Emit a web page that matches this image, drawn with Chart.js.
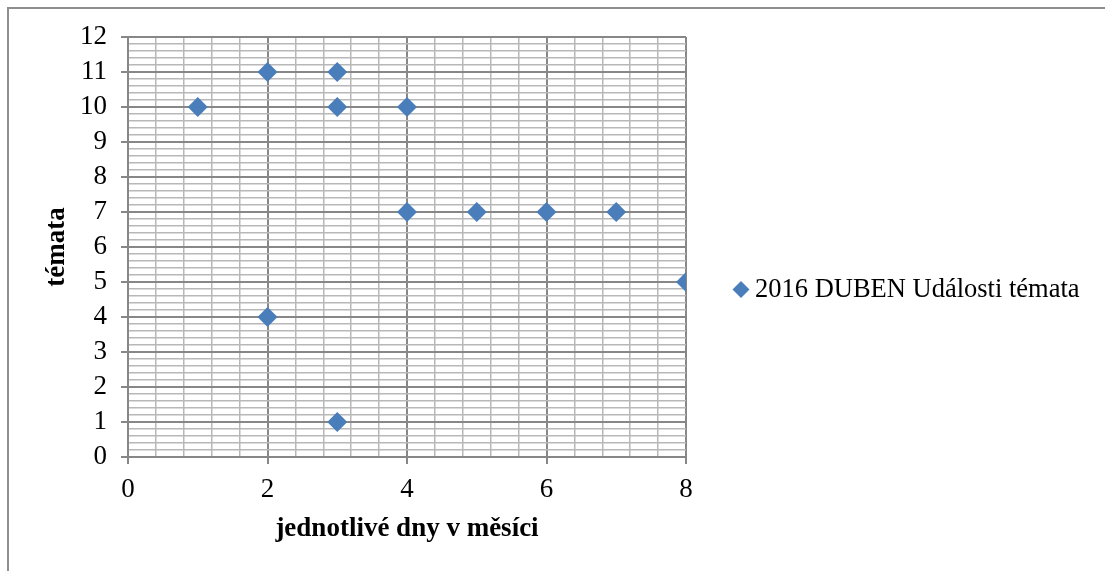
<!DOCTYPE html>
<html>
<head>
<meta charset="utf-8">
<script src="https://cdn.jsdelivr.net/npm/chart.js@4.4.1/dist/chart.umd.min.js"></script>
<style>
  html, body { margin: 0; padding: 0; background: #fff; overflow: hidden; }
  #frame { position: absolute; left: 7px; top: 7px; width: 1200px; height: 700px; border: 2px solid #8e8e8e; }
  #wrap { position: absolute; left: 0; top: 0; width: 1105px; height: 571px; }
</style>
</head>
<body>
<div id="frame"></div>
<div id="wrap"><canvas id="chart"></canvas></div>
<script>
// values
const seriesLabel = '2016 DUBEN Události témata';
const days = [1, 2, 3, 3, 4, 4, 5, 6, 7, 8, 2, 3];
const topics = [10, 11, 11, 10, 10, 7, 7, 7, 7, 5, 4, 1];
const xTitle = 'jednotlivé dny v měsíci';
const yTitle = 'témata';

const blue = '#4a7ebb';
const majorGrid = '#878787';
const minorGrid = '#b8b8b8';

const isWhole = (v, step) => Math.abs(v / step - Math.round(v / step)) < 1e-6;

Chart.defaults.font.family = '"Liberation Serif", "Times New Roman", serif';
Chart.defaults.font.size = 27;
Chart.defaults.color = '#000';

// Excel-like legend, sitting right of the plot
const sideLegend = {
  id: 'sideLegend',
  afterDraw(chart) {
    const { ctx, chartArea } = chart;
    const ds = chart.data.datasets[0];
    const x = chartArea.right + 55;
    const y = chart.height / 2 + 4;
    const r = 8.5;
    ctx.save();
    ctx.fillStyle = ds.backgroundColor;
    ctx.beginPath();
    ctx.moveTo(x, y - r);
    ctx.lineTo(x + r, y);
    ctx.lineTo(x, y + r);
    ctx.lineTo(x - r, y);
    ctx.closePath();
    ctx.fill();
    ctx.fillStyle = '#000';
    ctx.font = '26.5px "Liberation Serif", "Times New Roman", serif';
    ctx.textBaseline = 'middle';
    ctx.fillText(ds.label, x + 14, y + 1);
    ctx.restore();
  },
};

new Chart(document.getElementById('chart'), {
  type: 'scatter',
  data: {
    datasets: [{
      label: seriesLabel,
      data: days.map((d, i) => ({ x: d, y: topics[i] })),
      backgroundColor: blue,
      borderColor: blue,
      pointStyle: 'rectRot',
      pointRadius: 10,
      pointHoverRadius: 10,
      borderWidth: 0,
    }],
  },
  options: {
    responsive: true,
    maintainAspectRatio: false,
    animation: false,
    layout: { padding: { left: 24, top: 37, right: 419, bottom: 14 } },
    plugins: {
      legend: { display: false },
      tooltip: { enabled: false },
    },
    scales: {
      x: {
        type: 'linear',
        min: 0,
        max: 8,
        ticks: {
          stepSize: 0.4,
          autoSkip: false,
          maxRotation: 0,
          padding: 10,
          callback: (v) => (isWhole(v, 2) ? Math.round(v) : ''),
        },
        grid: {
          color: (c) => (isWhole(c.tick.value, 2) ? majorGrid : minorGrid),
          lineWidth: (c) => (isWhole(c.tick.value, 2) ? 2 : 1.5),
          tickColor: (c) => (isWhole(c.tick.value, 2) ? majorGrid : 'transparent'),
          tickLength: 7,
        },
        border: { color: majorGrid, width: 2 },
        title: {
          display: true,
          text: xTitle,
          font: { weight: 'bold', size: 27 },
          padding: { top: 0, bottom: 12 },
        },
        afterFit: (s) => { s.height = 100; },
      },
      y: {
        type: 'linear',
        min: 0,
        max: 12,
        ticks: {
          stepSize: 0.2,
          autoSkip: false,
          padding: 14,
          callback: (v) => (isWhole(v, 1) ? Math.round(v) : ''),
        },
        grid: {
          color: (c) => (isWhole(c.tick.value, 1) ? majorGrid : minorGrid),
          lineWidth: (c) => (isWhole(c.tick.value, 1) ? 2 : 1.5),
          tickColor: (c) => (isWhole(c.tick.value, 1) ? majorGrid : 'transparent'),
          tickLength: 7,
        },
        border: { color: majorGrid, width: 2 },
        title: {
          display: true,
          text: yTitle,
          font: { weight: 'bold', size: 27 },
          padding: { top: 17, bottom: 0 },
        },
        afterFit: (s) => { s.width = 104; },
      },
    },
  },
  plugins: [sideLegend],
});
</script>
</body>
</html>
